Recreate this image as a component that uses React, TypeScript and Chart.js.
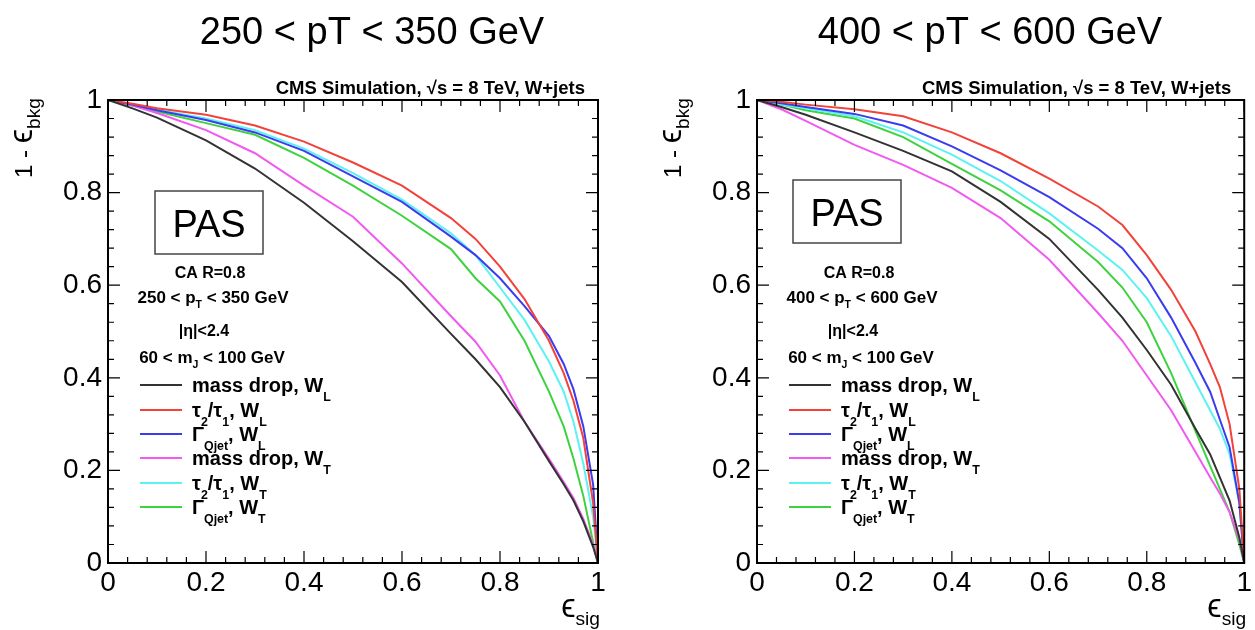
import React, { useEffect, useRef } from "react";
import { Chart, registerables } from "chart.js";

Chart.register(...registerables);

// ---------------- data ----------------
const effSig = [0, 0.05, 0.1, 0.2, 0.3, 0.4, 0.5, 0.6, 0.7, 0.75, 0.8, 0.85, 0.9, 0.93, 0.95, 0.97, 0.99, 1];
const axisTickLabels = ["0", "0.2", "0.4", "0.6", "0.8", "1"];

// 250 < pT < 350 GeV
const lowPtMassDropWL = [1, 0.982, 0.962, 0.913, 0.852, 0.778, 0.695, 0.607, 0.495, 0.44, 0.38, 0.305, 0.22, 0.17, 0.135, 0.09, 0.035, 0];
const lowPtTau21WL = [1, 0.992, 0.982, 0.968, 0.945, 0.91, 0.865, 0.815, 0.745, 0.7, 0.64, 0.57, 0.48, 0.41, 0.35, 0.27, 0.13, 0];
const lowPtQjetWL = [1, 0.99, 0.978, 0.957, 0.93, 0.89, 0.835, 0.78, 0.705, 0.665, 0.615, 0.555, 0.49, 0.43, 0.375, 0.295, 0.17, 0];
const lowPtMassDropWT = [1, 0.988, 0.972, 0.935, 0.885, 0.815, 0.748, 0.647, 0.533, 0.478, 0.405, 0.305, 0.225, 0.175, 0.14, 0.095, 0.04, 0];
const lowPtTau21WT = [1, 0.99, 0.979, 0.96, 0.935, 0.895, 0.842, 0.785, 0.712, 0.665, 0.595, 0.525, 0.435, 0.37, 0.305, 0.215, 0.1, 0];
const lowPtQjetWT = [1, 0.988, 0.975, 0.95, 0.925, 0.875, 0.815, 0.75, 0.678, 0.615, 0.565, 0.48, 0.37, 0.295, 0.225, 0.145, 0.045, 0];

// 400 < pT < 600 GeV
const highPtMassDropWL = [1, 0.985, 0.968, 0.93, 0.89, 0.846, 0.78, 0.7, 0.59, 0.53, 0.46, 0.385, 0.29, 0.235, 0.185, 0.135, 0.055, 0];
const highPtTau21WL = [1, 0.996, 0.99, 0.98, 0.965, 0.93, 0.885, 0.83, 0.77, 0.73, 0.665, 0.59, 0.5, 0.43, 0.38, 0.3, 0.16, 0];
const highPtQjetWL = [1, 0.993, 0.985, 0.97, 0.945, 0.9, 0.848, 0.79, 0.722, 0.68, 0.615, 0.53, 0.432, 0.37, 0.31, 0.25, 0.13, 0];
const highPtMassDropWT = [1, 0.98, 0.955, 0.903, 0.86, 0.81, 0.745, 0.655, 0.54, 0.48, 0.405, 0.33, 0.24, 0.185, 0.15, 0.11, 0.05, 0];
const highPtTau21WT = [1, 0.99, 0.982, 0.965, 0.93, 0.882, 0.825, 0.755, 0.675, 0.633, 0.572, 0.49, 0.39, 0.33, 0.29, 0.235, 0.13, 0];
const highPtQjetWT = [1, 0.99, 0.978, 0.96, 0.92, 0.862, 0.805, 0.738, 0.65, 0.595, 0.52, 0.41, 0.285, 0.21, 0.16, 0.11, 0.04, 0];

const panelTitles = ["250 < pT < 350 GeV", "400 < pT < 600 GeV"];
const ptLow = ["250", "400"];
const ptHigh = ["350", "600"];

// ---------------- styles ----------------
const FONT = '"Liberation Sans", Arial, Helvetica, sans-serif';
const COLORS = ["#333333", "#f2423a", "#3b3bf0", "#f05af0", "#5cf2f2", "#3fd23f"];

type Seg = { t: string; sub?: boolean; scale?: number };
const legendEntries: Seg[][] = [
  [{ t: "mass drop, W" }, { t: "L", sub: true }],
  [{ t: "τ" }, { t: "2", sub: true }, { t: "/τ" }, { t: "1", sub: true }, { t: ", W" }, { t: "L", sub: true }],
  [{ t: "Γ" }, { t: "Qjet", sub: true }, { t: ", W" }, { t: "L", sub: true }],
  [{ t: "mass drop, W" }, { t: "T", sub: true }],
  [{ t: "τ" }, { t: "2", sub: true }, { t: "/τ" }, { t: "1", sub: true }, { t: ", W" }, { t: "T", sub: true }],
  [{ t: "Γ" }, { t: "Qjet", sub: true }, { t: ", W" }, { t: "T", sub: true }],
];

function drawRich(
  ctx: CanvasRenderingContext2D,
  segs: Seg[],
  x: number,
  y: number,
  size: number,
  weight: string,
  align: "left" | "right" | "center",
  subScale = 0.62,
  subDrop = 0.32
) {
  const fontFor = (s: Seg) =>
    `${weight} ${Math.round((s.sub ? size * subScale : size * (s.scale || 1)) * 10) / 10}px ${FONT}`;
  ctx.textAlign = "left";
  ctx.textBaseline = "alphabetic";
  let total = 0;
  const widths = segs.map((s) => {
    ctx.font = fontFor(s);
    const w = ctx.measureText(s.t).width;
    total += w;
    return w;
  });
  let cx = align === "left" ? x : align === "right" ? x - total : x - total / 2;
  segs.forEach((s, i) => {
    ctx.font = fontFor(s);
    ctx.fillText(s.t, cx, y + (s.sub ? size * subDrop : 0));
    cx += widths[i];
  });
}

type PanelProps = {
  idx: number;
  series: number[][];
  left: number;
  width: number;
  rightPad: number;
  titleX: number;
  pasX: number;
  pasY: number;
};

function Panel({ idx, series, left, width, rightPad, titleX, pasX, pasY }: PanelProps) {
  const ref = useRef<HTMLCanvasElement | null>(null);

  useEffect(() => {
    if (!ref.current) return;

    const decorPlugin = {
      id: "decor" + idx,
      afterDraw(chart: any) {
        const ctx: CanvasRenderingContext2D = chart.ctx;
        const a = chart.chartArea;
        const xs = chart.scales.x;
        const ys = chart.scales.y;
        ctx.save();
        ctx.fillStyle = "#000";
        ctx.strokeStyle = "#000";

        // minor & major ticks, pointing inward on all 4 sides
        ctx.lineWidth = 1.2;
        for (let i = 0; i <= 25; i++) {
          const v = i / 25;
          const len = i % 5 === 0 ? 12 : 6;
          const px = xs.getPixelForValue(v);
          const py = ys.getPixelForValue(v);
          ctx.beginPath();
          ctx.moveTo(px, a.bottom);
          ctx.lineTo(px, a.bottom - len);
          ctx.moveTo(px, a.top);
          ctx.lineTo(px, a.top + len);
          ctx.moveTo(a.left, py);
          ctx.lineTo(a.left + len, py);
          ctx.moveTo(a.right, py);
          ctx.lineTo(a.right - len, py);
          ctx.stroke();
        }
        // frame
        ctx.lineWidth = 2;
        ctx.strokeRect(a.left, a.top, a.right - a.left, a.bottom - a.top);

        // panel title
        ctx.font = `38px ${FONT}`;
        ctx.textAlign = "center";
        ctx.textBaseline = "alphabetic";
        ctx.fillText(panelTitles[idx], titleX, 44);

        // CMS label
        drawRich(ctx, [{ t: "CMS Simulation, √s = 8 TeV, W+jets" }], a.right - 13, 94, 18.5, "bold", "right");

        // PAS box
        ctx.lineWidth = 1.5;
        ctx.strokeStyle = "#444";
        ctx.strokeRect(pasX, pasY, 108, 63);
        ctx.font = `38px ${FONT}`;
        ctx.textAlign = "center";
        ctx.fillStyle = "#000";
        ctx.fillText("PAS", pasX + 54, pasY + 46);

        // annotations
        drawRich(ctx, [{ t: "CA R=0.8" }], 210, 278, 16, "bold", "center");
        drawRich(
          ctx,
          [{ t: ptLow[idx] + " < p" }, { t: "T", sub: true }, { t: " < " + ptHigh[idx] + " GeV" }],
          213,
          303,
          17,
          "bold",
          "center"
        );
        drawRich(ctx, [{ t: "|η|<2.4" }], 204, 336, 16, "bold", "center");
        drawRich(
          ctx,
          [{ t: "60 < m" }, { t: "J", sub: true }, { t: " < 100 GeV" }],
          212,
          363,
          17,
          "bold",
          "center"
        );

        // legend
        const rows = [385, 410, 434, 458, 483, 507];
        rows.forEach((ry, i) => {
          ctx.strokeStyle = COLORS[i];
          ctx.lineWidth = 2;
          ctx.beginPath();
          ctx.moveTo(140, ry);
          ctx.lineTo(182, ry);
          ctx.stroke();
          ctx.fillStyle = "#000";
          drawRich(ctx, legendEntries[i], 192, ry + 7, 20, "bold", "left", 0.62, 0.45);
        });

        // y axis title (rotated)
        ctx.save();
        ctx.translate(a.left - 76, a.top - 2);
        ctx.rotate(-Math.PI / 2);
        drawRich(
          ctx,
          [{ t: "1 - " }, { t: "ϵ", scale: 1.35 }, { t: "bkg", sub: true }],
          0,
          0,
          24,
          "normal",
          "right",
          0.8,
          0.35
        );
        ctx.restore();

        // x axis title
        drawRich(ctx, [{ t: "ϵ", scale: 1.35 }, { t: "sig", sub: true }], a.right + 2, 617, 24, "normal", "right", 0.8, 0.35);

        ctx.restore();
      },
    };

    const datasets = series.map((vals, i) => ({
      data: effSig.map((x, j) => ({ x, y: vals[j] })),
      borderColor: COLORS[i],
      backgroundColor: COLORS[i],
      borderWidth: 2,
      showLine: true,
      pointRadius: 0,
      fill: false,
      tension: 0,
    }));

    const tickFont = { family: FONT, size: 28 };

    const chart = new Chart(ref.current, {
      type: "scatter",
      data: { datasets },
      options: {
        responsive: false,
        animation: false,
        events: [],
        layout: { padding: { left: 0, right: rightPad, top: 100, bottom: 0 } },
        plugins: { legend: { display: false }, tooltip: { enabled: false }, title: { display: false } },
        scales: {
          x: {
            type: "linear",
            min: 0,
            max: 1,
            afterFit: (s: any) => {
              s.height = 67;
            },
            grid: { display: false, drawTicks: false },
            border: { display: false },
            ticks: {
              stepSize: 0.2,
              autoSkip: false,
              maxRotation: 0,
              padding: 3,
              color: "#000",
              font: tickFont,
              callback: (v: any) => axisTickLabels[Math.round(Number(v) * 5)],
            },
          },
          y: {
            type: "linear",
            min: 0,
            max: 1,
            afterFit: (s: any) => {
              s.width = 108;
            },
            grid: { display: false, drawTicks: false },
            border: { display: false },
            ticks: {
              stepSize: 0.2,
              autoSkip: false,
              padding: 6,
              color: "#000",
              font: tickFont,
              callback: (v: any) => axisTickLabels[Math.round(Number(v) * 5)],
            },
          },
        },
      } as any,
      plugins: [decorPlugin],
    });

    return () => chart.destroy();
  }, []);

  return (
    <canvas
      ref={ref}
      width={width}
      height={630}
      style={{ position: "absolute", left, top: 0, width, height: 630, display: "block" }}
    />
  );
}

export default function App() {
  return (
    <div style={{ position: "absolute", left: 0, top: 0, width: 1255, height: 630, background: "#fff", overflow: "hidden" }}>
      <Panel
        idx={0}
        series={[lowPtMassDropWL, lowPtTau21WL, lowPtQjetWL, lowPtMassDropWT, lowPtTau21WT, lowPtQjetWT]}
        left={0}
        width={628}
        rightPad={30}
        titleX={372}
        pasX={155}
        pasY={191}
      />
      <Panel
        idx={1}
        series={[highPtMassDropWL, highPtTau21WL, highPtQjetWL, highPtMassDropWT, highPtTau21WT, highPtQjetWT]}
        left={649}
        width={606}
        rightPad={9}
        titleX={341}
        pasX={144}
        pasY={180}
      />
    </div>
  );
}
